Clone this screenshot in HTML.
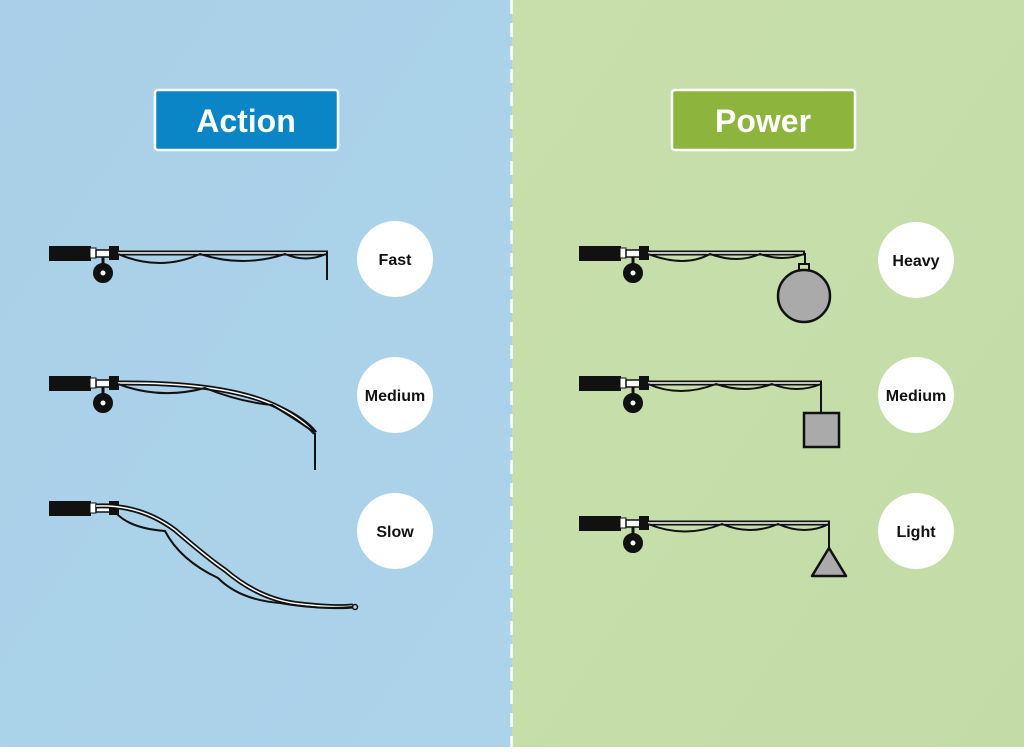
<!DOCTYPE html>
<html><head><meta charset="utf-8"><style>
html,body{margin:0;padding:0}
body{width:1024px;height:747px;overflow:hidden;font-family:"Liberation Sans",Arial,sans-serif}
</style></head><body>
<svg width="1024" height="747" viewBox="0 0 1024 747" xmlns="http://www.w3.org/2000/svg">
<defs>
<linearGradient id="bl" x1="0" x2="1" y1="0" y2="1"><stop offset="0" stop-color="#a9d0e8"/><stop offset="1" stop-color="#acd3ea"/></linearGradient>
<linearGradient id="gr" x1="0" x2="1" y1="0" y2="1"><stop offset="0" stop-color="#c8dfac"/><stop offset="1" stop-color="#c3dca7"/></linearGradient>
<g id="h">
<rect x="50" y="-6" width="40" height="13" fill="#111"/>
<rect x="90" y="-5" width="6" height="10" fill="#fff" stroke="#111" stroke-width="1"/>
<rect x="96" y="-3" width="14" height="7" fill="#fff" stroke="#111" stroke-width="1.5"/>
<rect x="110" y="-6" width="8" height="12" fill="#111"/>
</g>
<g id="reel">
<line x1="103" y1="4" x2="103" y2="14" stroke="#111" stroke-width="3"/>
<circle cx="103" cy="20" r="9" fill="#111"/>
<circle cx="103" cy="20" r="3.5" fill="#fff"/>
</g>
</defs>
<rect x="0" y="0" width="512" height="747" fill="url(#bl)"/>
<rect x="512" y="0" width="512" height="747" fill="url(#gr)"/>
<line x1="511.5" y1="0" x2="511.5" y2="747" stroke="#fff" stroke-width="2.5" stroke-dasharray="14,9"/>

<rect x="155" y="90" width="183" height="60" rx="3" fill="#0a85c6" stroke="#fff" stroke-width="2.5"/>
<text x="246" y="132" text-anchor="middle" font-size="32" font-weight="bold" fill="#fff">Action</text>
<rect x="672" y="90" width="183" height="60" rx="3" fill="#8db53e" stroke="#fff" stroke-width="2.5"/>
<text x="763" y="132" text-anchor="middle" font-size="32" font-weight="bold" fill="#fff">Power</text>

<g fill="#fff">
<circle cx="395" cy="259" r="38"/><circle cx="395" cy="395" r="38"/><circle cx="395" cy="531" r="38"/>
<circle cx="916" cy="260" r="38"/><circle cx="916" cy="395" r="38"/><circle cx="916" cy="531" r="38"/>
</g>
<g font-size="16" font-weight="bold" fill="#111" text-anchor="middle">
<text x="395" y="265">Fast</text><text x="395" y="401">Medium</text><text x="395" y="537">Slow</text>
<text x="916" y="266">Heavy</text><text x="916" y="401">Medium</text><text x="916" y="537">Light</text>
</g>

<g fill="none" stroke="#111" stroke-width="2">
<!-- Fast -->
<g transform="translate(0,253)"><use href="#h"/><use href="#reel"/></g>
<line x1="118" y1="253" x2="328" y2="253" stroke-width="5"/>
<line x1="118" y1="253" x2="326" y2="253" stroke="#fff" stroke-width="1.5"/>
<path d="M118 254 Q160 272 200 254 Q243 268 285 254 Q306 263 326 254"/>
<line x1="327" y1="253" x2="327" y2="280"/>

<!-- Medium action -->
<g transform="translate(0,383)"><use href="#h"/><use href="#reel"/></g>
<path d="M118 383 Q230 382 280 408 Q305 420 315 433" stroke-width="5"/>
<path d="M118 383 Q230 382 280 408 Q303 420 313 432" stroke="#fff" stroke-width="1.5"/>
<path d="M118 384 Q160 400 205 388 Q240 402 272 405 Q300 422 315 433"/>
<line x1="315" y1="433" x2="315" y2="470"/>

<!-- Slow -->
<g transform="translate(0,508)"><use href="#h"/></g>
<path d="M96 506 Q140 504 175 530 Q210 560 225 570 Q260 600 300 604 Q335 608 353 606" stroke-width="5"/>
<path d="M96 506 Q140 504 175 530 Q210 560 225 570 Q260 600 300 604 Q335 608 353 606" stroke="#fff" stroke-width="1.5"/>
<path d="M112 508 Q125 528 165 531 Q180 560 218 578 Q240 600 280 603 Q320 610 353 607"/>
<circle cx="355" cy="607" r="2.5" stroke-width="1.5"/>

<!-- Heavy -->
<g transform="translate(530,253)"><use href="#h"/><use href="#reel"/></g>
<line x1="648" y1="253" x2="805" y2="253" stroke-width="5"/>
<line x1="648" y1="253" x2="803" y2="253" stroke="#fff" stroke-width="1.5"/>
<path d="M648 254 Q685 268 710 254 Q738 264 760 254 Q783 262 804 254"/>
<line x1="805" y1="253" x2="805" y2="264"/>
<rect x="799" y="264" width="10" height="6" stroke-width="2"/>
<circle cx="804" cy="296" r="26" fill="#aaa" stroke-width="2.5"/>

<!-- Medium power -->
<g transform="translate(530,383)"><use href="#h"/><use href="#reel"/></g>
<line x1="648" y1="383" x2="822" y2="383" stroke-width="5"/>
<line x1="648" y1="383" x2="820" y2="383" stroke="#fff" stroke-width="1.5"/>
<path d="M648 384 Q680 398 716 384 Q745 394 772 384 Q797 394 821 384"/>
<line x1="821" y1="383" x2="821" y2="413"/>
<rect x="804" y="413" width="35" height="34" fill="#aaa" stroke-width="2.5"/>

<!-- Light -->
<g transform="translate(530,523)"><use href="#h"/><use href="#reel"/></g>
<line x1="648" y1="523" x2="830" y2="523" stroke-width="5"/>
<line x1="648" y1="523" x2="828" y2="523" stroke="#fff" stroke-width="1.5"/>
<path d="M648 524 Q685 539 722 524 Q750 536 778 524 Q805 536 829 524"/>
<line x1="829" y1="523" x2="829" y2="548"/>
<polygon points="829,548 846,576 812,576" fill="#aaa" stroke-width="2.5" stroke-linejoin="round"/>
</g>
</svg>
</body></html>
